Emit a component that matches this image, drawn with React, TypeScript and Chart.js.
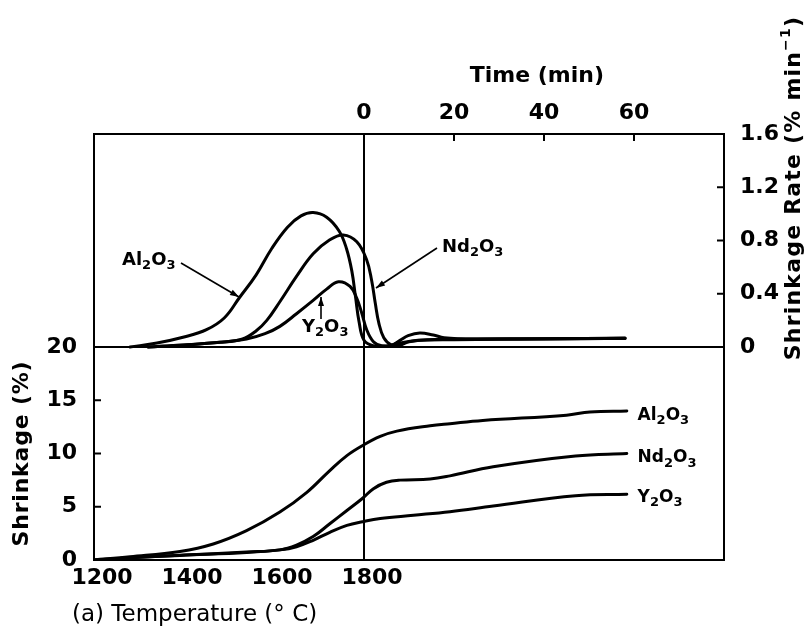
import React, { useEffect, useRef } from 'react';
import { Chart, registerables } from 'chart.js';

Chart.register(...registerables);

// ---- axis ticks ----
const tempTicks = [1200, 1400, 1600, 1800];
const timeTicks = [0, 20, 40, 60];
const rateTicks = [0, 0.4, 0.8, 1.2, 1.6];
const shrinkTicks = [0, 5, 10, 15, 20];

// ---- data: time in min relative to reaching 1800 °C (heating at 10 °C/min gives negative times) ----
// Shrinkage rate (% / min)
const alRateT = [-52, -46, -40, -35, -31, -27.7, -24, -20.5, -17, -14, -11.3, -8.3, -5.5, -3.9, -2.7, -1.9, -1.1, 0, 2, 5, 8, 12, 20, 40, 58];
const alRate = [0, 0.03, 0.075, 0.13, 0.22, 0.37, 0.54, 0.74, 0.9, 0.985, 1.01, 0.975, 0.87, 0.74, 0.57, 0.38, 0.19, 0.05, 0.01, 0.008, 0.03, 0.05, 0.055, 0.06, 0.065];

const ndRateT = [-48, -40, -32, -27, -24, -21.6, -18.7, -15, -11.3, -7.6, -4.6, -1.6, 0.6, 1.7, 2.5, 3.3, 4.4, 6.1, 8, 10, 14, 25, 40, 58];
const ndRate = [0, 0.015, 0.035, 0.06, 0.12, 0.2, 0.34, 0.53, 0.7, 0.805, 0.842, 0.79, 0.654, 0.5, 0.33, 0.18, 0.07, 0.015, 0.015, 0.04, 0.055, 0.06, 0.062, 0.065];

const yRateT = [-48, -40, -32, -26.1, -22, -18.7, -15, -11.3, -8.3, -5.7, -3.1, -1.6, -0.5, 0.6, 2.1, 3.9, 6, 8, 9.8, 12.4, 15.4, 17.8, 25, 40, 58];
const yRate = [0, 0.015, 0.035, 0.06, 0.1, 0.155, 0.25, 0.35, 0.435, 0.49, 0.455, 0.365, 0.255, 0.13, 0.04, 0.01, 0.012, 0.05, 0.085, 0.105, 0.09, 0.07, 0.06, 0.062, 0.065];

// Shrinkage (%)
const alShrT = [-60, -52, -40.9, -33.5, -26.1, -18.7, -12.7, -7.6, -3.8, -0.3, 3.6, 7.3, 14.7, 19.1, 26.4, 45, 50.2, 58.4];
const alShr = [0, 0.3, 0.8, 1.5, 2.75, 4.5, 6.35, 8.4, 9.8, 10.75, 11.6, 12.1, 12.6, 12.8, 13.1, 13.6, 13.9, 14.0];

const ndShrT = [-60, -52, -40.9, -26.1, -18.7, -15, -11.3, -7.6, -3.8, -0.3, 2.1, 5, 8, 14.7, 19.1, 28.7, 47, 58.4];
const ndShr = [0, 0.2, 0.45, 0.75, 0.95, 1.4, 2.2, 3.4, 4.65, 5.8, 6.7, 7.3, 7.5, 7.6, 7.9, 8.76, 9.77, 10.0];

const yShrT = [-60, -52, -40.9, -26.1, -18.7, -15, -11.3, -7.6, -3.8, -0.3, 3.6, 11, 19.1, 28.7, 47, 58.4];
const yShr = [0, 0.2, 0.43, 0.7, 0.95, 1.25, 1.85, 2.6, 3.25, 3.6, 3.9, 4.2, 4.54, 5.07, 6.04, 6.17];

const FONT = '"DejaVu Sans"';

const zip = (xs: number[], ys: number[]) => xs.map((x, i) => ({ x, y: ys[i] }));

type Part = [string, number]; // text, 0 normal, 1 subscript, -1 superscript

function richText(ctx: CanvasRenderingContext2D, parts: Part[], x: number, y: number, size: number, small: number, weight: string, align: 'left' | 'center', spacing = 0) {
  (ctx as any).letterSpacing = `${spacing}px`;
  const widths = parts.map(([s, k]) => {
    ctx.font = `${weight} ${k ? small : size}px ${FONT}`;
    return ctx.measureText(s).width;
  });
  const total = widths.reduce((a, b) => a + b, 0);
  let cx = align === 'center' ? x - total / 2 : x;
  ctx.textAlign = 'left';
  ctx.textBaseline = 'middle';
  parts.forEach(([s, k], i) => {
    ctx.font = `${weight} ${k ? small : size}px ${FONT}`;
    const dy = k === 1 ? size * 0.32 : k === -1 ? -size * 0.35 : 0;
    ctx.fillText(s, cx, y + dy);
    cx += widths[i];
  });
  (ctx as any).letterSpacing = '0px';
}

function arrow(ctx: CanvasRenderingContext2D, x1: number, y1: number, x2: number, y2: number) {
  ctx.beginPath();
  ctx.moveTo(x1, y1);
  ctx.lineTo(x2, y2);
  ctx.lineWidth = 1.6;
  ctx.stroke();
  const a = Math.atan2(y2 - y1, x2 - x1);
  const L = 9, W = 3;
  ctx.beginPath();
  ctx.moveTo(x2, y2);
  ctx.lineTo(x2 - L * Math.cos(a) + W * Math.sin(a), y2 - L * Math.sin(a) - W * Math.cos(a));
  ctx.lineTo(x2 - L * Math.cos(a) - W * Math.sin(a), y2 - L * Math.sin(a) + W * Math.cos(a));
  ctx.closePath();
  ctx.fill();
}

const al: Part[] = [['Al', 0], ['2', 1], ['O', 0], ['3', 1]];
const nd: Part[] = [['Nd', 0], ['2', 1], ['O', 0], ['3', 1]];
const yo: Part[] = [['Y', 0], ['2', 1], ['O', 0], ['3', 1]];

const decoPlugin = {
  id: 'deco',
  afterDraw(chart: any) {
    const ctx: CanvasRenderingContext2D = chart.ctx;
    const { left, right, top } = chart.chartArea;
    const xs = chart.scales.x2;
    const yr = chart.scales.yRate;
    const ys = chart.scales.yShr;
    ctx.save();
    ctx.strokeStyle = '#000';
    ctx.fillStyle = '#000';
    ctx.lineWidth = 2;
    const seg = (a: number, b: number, c: number, d: number) => {
      ctx.beginPath();
      ctx.moveTo(a, b);
      ctx.lineTo(c, d);
      ctx.stroke();
    };
    // inward tick marks
    timeTicks.forEach((v) => {
      if (v === 0) return;
      const px = xs.getPixelForValue(v);
      seg(px, top, px, top + 7);
    });
    rateTicks.forEach((v) => {
      if (v === 0 || v === 1.6) return;
      const py = yr.getPixelForValue(v);
      seg(right, py, right - 7, py);
    });
    shrinkTicks.forEach((v) => {
      if (v === 0 || v === 20) return;
      const py = ys.getPixelForValue(v);
      seg(left, py, left + 7, py);
    });

    // axis titles
    richText(ctx, [['Time (min)', 0]], xs.getPixelForValue(38.4), 76, 22, 14, 'bold', 'center');

    ctx.save();
    ctx.translate(22, ys.getPixelForValue(10));
    ctx.rotate(-Math.PI / 2);
    richText(ctx, [['Shrinkage (%)', 0]], 0, 0, 22, 14, 'bold', 'center', 0.8);
    ctx.restore();

    ctx.save();
    ctx.translate(794, 188);
    ctx.rotate(-Math.PI / 2);
    richText(ctx, [['Shrinkage Rate (% min', 0], ['\u22121', -1], [')', 0]], 0, 0, 22, 14, 'bold', 'center', 1.2);
    ctx.restore();

    richText(ctx, [['(a) Temperature (\u00B0 C)', 0]], 72, 615, 23, 14, 'normal', 'left');

    // annotations, top panel
    richText(ctx, al, 122, 260, 18, 13, 'bold', 'left');
    arrow(ctx, 181, 263, 239, 297);
    richText(ctx, nd, 442, 247, 18, 13, 'bold', 'left');
    arrow(ctx, 437, 248, 376, 288);
    richText(ctx, yo, 302, 327, 18, 13, 'bold', 'left');
    arrow(ctx, 321, 319, 321, 297);

    // labels, bottom panel
    const lx = xs.getPixelForValue(60.8);
    richText(ctx, al, lx, ys.getPixelForValue(13.6), 17, 13, 'bold', 'left');
    richText(ctx, nd, lx, ys.getPixelForValue(9.6), 17, 13, 'bold', 'left');
    richText(ctx, yo, lx, ys.getPixelForValue(5.9), 17, 13, 'bold', 'left');
    ctx.restore();
  },
};

const line = (label: string, data: { x: number; y: number }[], yAxisID: string) => ({
  label,
  data,
  xAxisID: 'x2',
  yAxisID,
  borderColor: '#000',
  borderWidth: 3,
  pointRadius: 0,
  fill: false,
  tension: 0.4,
  borderCapStyle: 'round' as const,
  borderJoinStyle: 'round' as const,
});

export default function App() {
  const ref = useRef<HTMLCanvasElement | null>(null);
  useEffect(() => {
    if (!ref.current) return;
    const tickFont = { family: FONT, size: 22, weight: 'bold' as const };
    const chart = new Chart(ref.current, {
      type: 'line',
      data: {
        datasets: [
          line('Al2O3 rate', zip(alRateT, alRate), 'yRate'),
          line('Nd2O3 rate', zip(ndRateT, ndRate), 'yRate'),
          line('Y2O3 rate', zip(yRateT, yRate), 'yRate'),
          line('Al2O3 shrinkage', zip(alShrT, alShr), 'yShr'),
          line('Nd2O3 shrinkage', zip(ndShrT, ndShr), 'yShr'),
          line('Y2O3 shrinkage', zip(yShrT, yShr), 'yShr'),
        ],
      },
      options: {
        responsive: false,
        animation: false,
        events: [],
        layout: { padding: 0 },
        plugins: { legend: { display: false }, tooltip: { enabled: false }, title: { display: false } },
        scales: {
          x: {
            type: 'linear',
            position: 'bottom',
            min: 1200,
            max: 2600,
            afterBuildTicks: (s: any) => { s.ticks = tempTicks.map((value) => ({ value })); },
            afterFit: (s: any) => { s.height = 72; },
            ticks: { font: tickFont, color: '#000', padding: 5, labelOffset: 8, maxRotation: 0, autoSkip: false, callback: (v: any) => String(v) },
            grid: {
              drawTicks: false,
              lineWidth: 2,
              color: (c: any) => (c.tick && c.tick.value === 1800 ? '#000' : 'rgba(0,0,0,0)'),
            },
            border: { display: true, color: '#000', width: 2 },
          },
          x2: {
            type: 'linear',
            position: 'top',
            min: -60,
            max: 80,
            afterBuildTicks: (s: any) => { s.ticks = timeTicks.map((value) => ({ value })); },
            afterFit: (s: any) => { s.height = 134; },
            ticks: { font: tickFont, color: '#000', padding: 8, maxRotation: 0, autoSkip: false, callback: (v: any) => String(v) },
            grid: { drawTicks: false, drawOnChartArea: false },
            border: { display: true, color: '#000', width: 2 },
          },
          yRate: {
            type: 'linear',
            position: 'right',
            min: -1.6,
            max: 1.6,
            afterBuildTicks: (s: any) => { s.ticks = rateTicks.map((value) => ({ value })); },
            afterFit: (s: any) => { s.width = 86; },
            ticks: { font: tickFont, color: '#000', padding: 16, autoSkip: false, callback: (v: any) => (v === 0 ? '0' : Number(v).toFixed(1)) },
            grid: {
              drawTicks: false,
              lineWidth: 2,
              color: (c: any) => (c.tick && c.tick.value === 0 ? '#000' : 'rgba(0,0,0,0)'),
            },
            border: { display: true, color: '#000', width: 2 },
          },
          yShr: {
            type: 'linear',
            position: 'left',
            min: 0,
            max: 40,
            afterBuildTicks: (s: any) => { s.ticks = shrinkTicks.map((value) => ({ value })); },
            afterFit: (s: any) => { s.width = 94; },
            ticks: { font: tickFont, color: '#000', padding: 17, autoSkip: false, callback: (v: any) => String(v) },
            grid: { drawTicks: false, drawOnChartArea: false },
            border: { display: true, color: '#000', width: 2 },
          },
        },
      },
      plugins: [decoPlugin],
    } as any);
    return () => chart.destroy();
  }, []);

  return (
    <div style={{ position: 'fixed', left: 0, top: 0, width: 810, height: 632, background: '#fff' }}>
      <canvas ref={ref} width={810} height={632} style={{ display: 'block', width: 810, height: 632 }} />
    </div>
  );
}
